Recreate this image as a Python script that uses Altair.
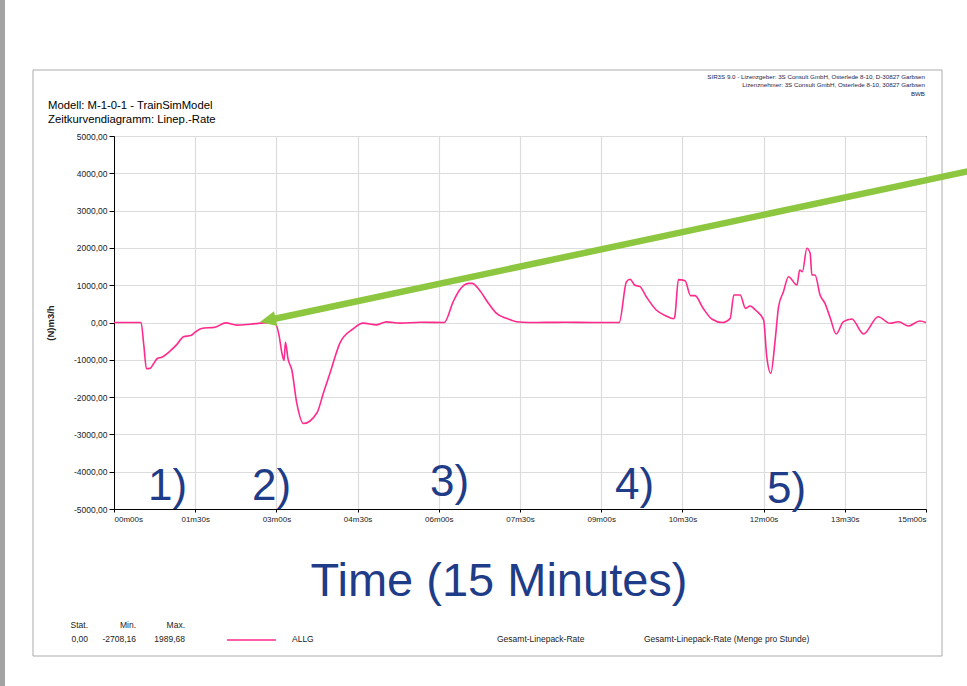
import altair as alt
import pandas as pd

# Gesamt-Linepack-Rate over the 15-minute simulation run
time_s = [0, 30, 33, 36, 40, 44, 48, 53, 62, 70, 77, 85, 90, 97, 112, 124, 136, 151,
          166, 178, 183, 186, 188.5, 190, 193, 197, 202.5, 210, 225, 232, 239.5, 250.5,
          265, 276, 291, 302, 317, 340, 366, 376, 383, 393, 397, 405, 415, 424, 435,
          446, 460, 500, 530, 560, 568, 572, 577, 583, 590, 601, 612, 620, 621.5,
          625.6, 633, 639, 644, 653, 663, 674, 683, 687, 694, 700, 705, 711, 720,
          723.5, 728, 733, 736.6, 742, 747.6, 757, 760, 763, 768, 771.6, 773.5, 777,
          782.6, 788, 794, 800.4, 808.5, 817.8, 830.7, 847, 860, 869.5, 880.6, 893, 900]
rate = [0, 0, -600, -1240, -1230, -1100, -965, -930, -770, -580, -380, -350, -260, -160,
        -125, -10, -70, -45, -10, 0, -350, -810, -1020, -530, -990, -1260, -2150,
        -2708.16, -2420, -1900, -1350, -545, -170, -18, -63, 18, -18, 5, 0, 560, 870,
        1050, 1050, 870, 515, 245, 112, 22, 0, 5, 0, 0, 1095, 1160, 1005, 960, 690, 335,
        175, 100, 150, 1150, 1120, 720, 720, 380, 86, 0, 112, 737, 737, 380, 442, 335,
        67, -917, -1362, -424, 424, 826, 1228, 1005, 1407, 1362, 1989.68, 1855, 1273,
        1273, 737, 514, 112, -308, 22, 94, -308, 156, -22, 22, -94, 40, 0]

y_ticks = [-5000, -4000, -3000, -2000, -1000, 0, 1000, 2000, 3000, 4000, 5000]
x_ticks = [0, 90, 180, 270, 360, 450, 540, 630, 720, 810, 900]

phase_labels = ["1)", "2)", "3)", "4)", "5)"]

FONT = "Liberation Sans"
PINK = "#ff2a8c"
BLUE = "#1f3c88"
GREEN = "#8dc63f"

W, H = 812, 373
PAD_L, PAD_T = 114, 136


def de_num(v):
    s = f"{abs(v):.2f}".replace(".", ",")
    return ("-" if v < 0 else "") + s


def text_at(txt, x, y, size, align="left", color="#000", weight="normal", angle=0,
            baseline="alphabetic"):
    kw = dict(text=txt, fontSize=size, align=align, color=color, font=FONT,
              fontWeight=weight, baseline=baseline)
    if angle:
        kw["angle"] = angle
    return alt.Chart(alt.Data(values=[{}])).mark_text(**kw).encode(
        x=alt.value(x - PAD_L), y=alt.value(y - PAD_T))


df = pd.DataFrame({"t": time_s, "rate": rate})

x_label = ("(floor(datum.value/60)<10?'0':'') + floor(datum.value/60) + 'm' + "
           "(datum.value%60<10?'0':'') + (datum.value%60) + 's'")

series = alt.Chart(df).mark_line(color=PINK, strokeWidth=1.6, interpolate="monotone").encode(
    x=alt.X("t:Q", scale=alt.Scale(domain=[0, 900], nice=False),
            axis=alt.Axis(values=x_ticks, labelExpr=x_label, title=None, grid=True,
                          tickSize=3, labelPadding=3, labelFlush=True, labelFontSize=8)),
    y=alt.Y("rate:Q", scale=alt.Scale(domain=[-5000, 5000], nice=False),
            axis=alt.Axis(values=y_ticks, labelExpr="datum.value + ',00'", title=None,
                          grid=True, tickSize=5, labelPadding=2, labelFontSize=8.5)),
)

# frame around the whole diagram and the side bar
frame = alt.Chart(alt.Data(values=[{}])).mark_rect(
    fillOpacity=0, stroke="#ababab", strokeWidth=1).encode(
    x=alt.value(33 - PAD_L), x2=alt.value(942 - PAD_L),
    y=alt.value(70 - PAD_T), y2=alt.value(656 - PAD_T))
side_bar = alt.Chart(alt.Data(values=[{}])).mark_rect(color="#a3a3a3").encode(
    x=alt.value(0 - PAD_L), x2=alt.value(5 - PAD_L),
    y=alt.value(0 - PAD_T), y2=alt.value(686 - PAD_T))

# pointer arrow to the start of phase 2
tail_x, tail_y = 975, 169.8
head_cx, head_cy = 267.8, 320.3
arrow_shaft = alt.Chart(alt.Data(values=[{}])).mark_rule(
    color=GREEN, strokeWidth=6.5, strokeCap="butt").encode(
    x=alt.value(head_cx - PAD_L), y=alt.value(head_cy - PAD_T),
    x2=alt.value(tail_x - PAD_L), y2=alt.value(tail_y - PAD_T))
arrow_head = alt.Chart(alt.Data(values=[{}])).mark_point(
    shape="M -1 0 L 1 -0.95 L 1 0.95 Z", filled=True, size=256, angle=348,
    color=GREEN, opacity=1, strokeWidth=0).encode(
    x=alt.value(head_cx - PAD_L), y=alt.value(head_cy - PAD_T))

# legend line
legend_line = alt.Chart(alt.Data(values=[{}])).mark_rule(color=PINK, strokeWidth=1.5).encode(
    x=alt.value(227 - PAD_L), x2=alt.value(276 - PAD_L), y=alt.value(640 - PAD_T))

texts = [
    text_at("Modell: M-1-0-1 - TrainSimModel", 48, 108.5, 11.3),
    text_at("Zeitkurvendiagramm: Linep.-Rate", 48, 122.5, 11.3),
    text_at("SIR3S 9.0 - Lizenzgeber: 3S Consult GmbH, Osterlede 8-10, D-30827 Garbsen",
            925, 78.5, 6.2, align="right", color="#1a1a4a"),
    text_at("Lizenznehmer: 3S Consult GmbH, Osterlede 8-10, 30827 Garbsen",
            925, 87, 6.2, align="right", color="#1a1a4a"),
    text_at("BWB", 925, 95.5, 6.2, align="right", color="#1a1a4a"),
    text_at("(N)m3/h", 51, 323, 9.5, align="center", color="#222", weight="bold",
            angle=270, baseline="middle"),
    text_at("Time (15 Minutes)", 499, 596, 47, align="center", color=BLUE),
    text_at("Stat.", 88, 628, 8.5, align="right", color="#222"),
    text_at("Min.", 136, 628, 8.5, align="right", color="#222"),
    text_at("Max.", 185, 628, 8.5, align="right", color="#222"),
    text_at("0,00", 88, 642, 8.5, align="right", color="#222"),
    text_at(de_num(min(rate)), 136, 642, 8.5, align="right", color="#222"),
    text_at(de_num(max(rate)), 185, 642, 8.5, align="right", color="#222"),
    text_at("ALLG", 292, 642, 8.5, color="#222"),
    text_at("Gesamt-Linepack-Rate", 497, 642, 8.5, color="#222"),
    text_at("Gesamt-Linepack-Rate (Menge pro Stunde)", 644, 642, 8.5, color="#222"),
]
for lbl, (px, py) in zip(phase_labels, [(148, 500), (252, 500), (430, 496), (615, 499), (767, 503)]):
    texts.append(text_at(lbl, px, py, 44, color=BLUE))

chart = alt.layer(side_bar, frame, series, legend_line, arrow_shaft, arrow_head, *texts).properties(
    width=W, height=H,
    autosize=alt.AutoSizeParams(type="none"),
    padding={"left": PAD_L, "top": PAD_T, "right": 967 - PAD_L - W, "bottom": 686 - PAD_T - H},
    background="white",
).configure_view(
    stroke="black", strokeWidth=1
).configure_axis(
    domainColor="black", tickColor="black", gridColor="#dcdcdc", gridWidth=1.2,
    labelFont=FONT, labelColor="#222"
)

chart.save("out.html", embed_options={"renderer": "svg", "actions": False})
